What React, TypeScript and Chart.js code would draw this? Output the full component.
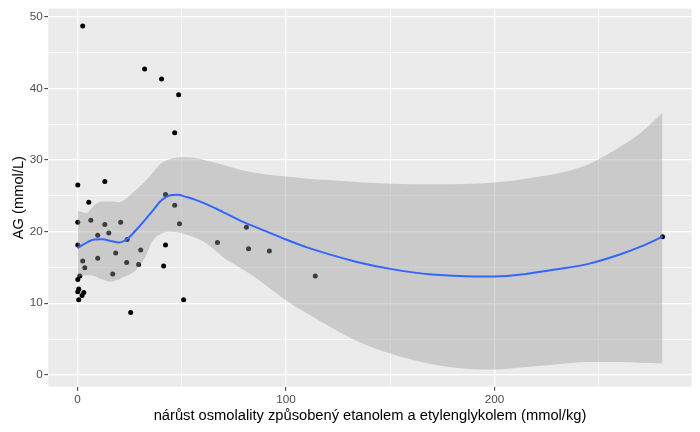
import React, { useEffect, useRef } from "react";
import { Chart, registerables } from "chart.js";

Chart.register(...registerables);

// Observed points: nárůst osmolality (x) vs AG (y)
const ptX = [2.5, 32.2, 40.3, 48.5, 46.6, 0.15, 13.1, 5.4, 42.2, 46.6, 0.15, 6.4, 13.1, 20.7, 48.9, 9.7, 15.0, 23.8, 0.15, 30.3, 18.3, 42.2, 67.1, 81.0, 9.7, 23.6, 29.3, 41.3, 2.5, 3.5, 16.9, 1.1, 0.15, 0.6, 0.15, 3.0, 2.2, 0.6, 50.9, 25.5, 82.0, 92.0, 114.0, 280.5];
const ptY = [48.7, 42.7, 41.3, 39.1, 33.8, 26.5, 27.0, 24.1, 25.2, 23.7, 21.3, 21.6, 21.0, 21.3, 21.1, 19.5, 19.8, 18.9, 18.15, 17.45, 17.0, 18.15, 18.5, 20.6, 16.3, 15.7, 15.4, 15.2, 15.9, 14.95, 14.1, 13.8, 13.3, 12.0, 11.6, 11.5, 11.1, 10.5, 10.5, 8.7, 17.6, 17.3, 13.8, 19.3];

// Loess smooth and its confidence band
const fitX = [0, 4, 8, 12, 16, 20, 24, 28, 32, 36, 40, 44, 48, 52, 56, 62, 70, 80, 90, 100, 110, 120, 135, 150, 170, 190, 200, 215, 230, 245, 260, 270, 280.5];
const fitY = [17.7, 18.4, 18.9, 18.95, 18.7, 18.5, 19.0, 20.2, 21.5, 22.9, 24.3, 25.05, 25.15, 24.85, 24.5, 23.8, 22.7, 21.3, 20.1, 18.9, 17.8, 16.9, 15.7, 14.8, 14.0, 13.75, 13.75, 14.1, 14.75, 15.5, 16.8, 17.9, 19.3];
const fitUpper = [22.9, 22.6, 23.7, 24.2, 24.2, 24.1, 24.8, 25.8, 26.9, 28.2, 29.5, 30.1, 30.35, 30.4, 30.3, 29.9, 29.3, 28.5, 28.0, 27.7, 27.4, 27.2, 26.9, 26.7, 26.6, 26.7, 26.85, 27.4, 28.1, 29.4, 31.8, 33.8, 36.6];
const fitLower = [13.6, 13.9, 13.8, 13.3, 13.0, 13.4, 13.9, 14.6, 16.2, 18.7, 19.7, 20.0, 19.9, 19.6, 19.2, 18.3, 16.4, 14.6, 12.6, 10.4, 8.6, 6.9, 4.6, 3.0, 1.5, 0.8, 0.75, 1.1, 1.5, 1.8, 1.8, 1.7, 1.6];

const xTicks = [0, 100, 200];
const yTicks = [0, 10, 20, 30, 40, 50];

const xTitle = "nárůst osmolality způsobený etanolem a etylenglykolem (mmol/kg)";
const yTitle = "AG (mmol/L)";

const FONT = "'Liberation Sans', Arial, sans-serif";

export default function App() {
  const ref = useRef<HTMLCanvasElement | null>(null);

  useEffect(() => {
    if (!ref.current) return;
    const bgPlugin = {
      id: "panelBg",
      beforeDraw(chart: any) {
        const { ctx, chartArea } = chart;
        ctx.save();
        ctx.fillStyle = "#EBEBEB";
        ctx.fillRect(chartArea.left, chartArea.top, chartArea.right - chartArea.left, chartArea.bottom - chartArea.top);
        ctx.restore();
      },
    };
    const isMajorX = (v: number) => xTicks.includes(v);
    const isMajorY = (v: number) => yTicks.includes(v);

    const chart = new Chart(ref.current, {
      type: "scatter",
      data: {
        datasets: [
          {
            type: "line",
            data: fitX.map((x, i) => ({ x, y: fitY[i] })),
            borderColor: "#3366FF",
            borderWidth: 2,
            pointRadius: 0,
            cubicInterpolationMode: "monotone",
            fill: false,
            order: 0,
          },
          {
            type: "line",
            data: fitX.map((x, i) => ({ x, y: fitUpper[i] })),
            borderWidth: 0,
            borderColor: "rgba(0,0,0,0)",
            backgroundColor: "rgba(153,153,153,0.4)",
            pointRadius: 0,
            cubicInterpolationMode: "monotone",
            fill: "+1",
            order: 1,
          },
          {
            type: "line",
            data: fitX.map((x, i) => ({ x, y: fitLower[i] })),
            borderWidth: 0,
            borderColor: "rgba(0,0,0,0)",
            pointRadius: 0,
            cubicInterpolationMode: "monotone",
            fill: false,
            order: 2,
          },
          {
            type: "scatter",
            data: ptX.map((x, i) => ({ x, y: ptY[i] })),
            backgroundColor: "#000000",
            borderWidth: 0,
            pointRadius: 2.5,
            order: 3,
          },
        ],
      } as any,
      options: {
        animation: false,
        responsive: true,
        maintainAspectRatio: false,
        layout: { padding: { top: 6.7, right: 8.3, left: 0, bottom: 0 } },
        plugins: { legend: { display: false }, tooltip: { enabled: false } },
        scales: {
          x: {
            type: "linear",
            min: -14,
            max: 294.5,
            afterFit: (s: any) => { s.height = 45.3; },
            border: { display: false },
            grid: {
              color: (c: any) => "#FFFFFF",
              lineWidth: (c: any) => (isMajorX(c.tick?.value) ? 1.3 : 0.6),
              drawTicks: true,
              tickLength: 4,
              tickWidth: (c: any) => 1,
              tickColor: (c: any) => (isMajorX(c.tick?.value) ? "#333333" : "rgba(0,0,0,0)"),
            },
            ticks: {
              stepSize: 50,
              includeBounds: false,
              autoSkip: false,
              maxRotation: 0,
              padding: 2,
              color: "#4D4D4D",
              font: { family: FONT, size: 11.7 },
              callback: (v: any) => (isMajorX(Number(v)) ? String(v) : ""),
            },
            title: {
              display: true,
              text: xTitle,
              color: "#000000",
              font: { family: FONT, size: 14.7 },
              padding: { top: 0, bottom: 7 },
            },
          },
          y: {
            type: "linear",
            min: -1.65,
            max: 51.15,
            afterFit: (s: any) => { s.width = 48.3; },
            border: { display: false },
            grid: {
              color: (c: any) => "#FFFFFF",
              lineWidth: (c: any) => (isMajorY(c.tick?.value) ? 1.3 : 0.6),
              drawTicks: true,
              tickLength: 4,
              tickWidth: (c: any) => 1,
              tickColor: (c: any) => (isMajorY(c.tick?.value) ? "#333333" : "rgba(0,0,0,0)"),
            },
            ticks: {
              stepSize: 5,
              includeBounds: false,
              autoSkip: false,
              padding: 1.5,
              color: "#4D4D4D",
              font: { family: FONT, size: 11.7 },
              callback: (v: any) => (isMajorY(Number(v)) ? String(v) : ""),
            },
            title: {
              display: true,
              text: yTitle,
              color: "#000000",
              font: { family: FONT, size: 14.7 },
              padding: { top: 10, bottom: 0 },
            },
          },
        },
      } as any,
      plugins: [bgPlugin],
    });
    return () => chart.destroy();
  }, []);

  return (
    <div style={{ position: "absolute", left: 0, top: 0, width: 700, height: 432, background: "#FFFFFF" }}>
      <canvas ref={ref} />
    </div>
  );
}
